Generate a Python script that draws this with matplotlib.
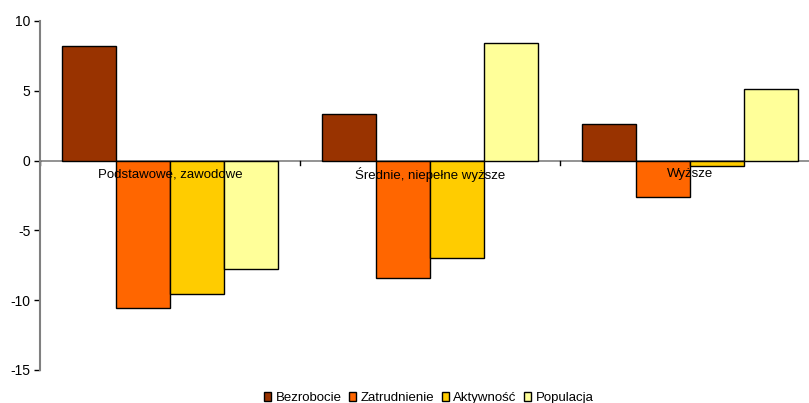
import numpy as np
import matplotlib.pyplot as plt
from matplotlib.patches import Patch

plt.rcParams['font.family'] = ['Liberation Sans', 'DejaVu Sans']
plt.rcParams['axes.unicode_minus'] = False

# zmiany wg poziomu wykształcenia
kategorie = ['Podstawowe, zawodowe', 'Średnie, niepełne wyższe', 'Wyższe']
serie = ['Bezrobocie', 'Zatrudnienie', 'Aktywność', 'Populacja']
bezrobocie = [8.2, 3.3, 2.6]
zatrudnienie = [-10.6, -8.4, -2.6]
aktywnosc = [-9.6, -7.0, -0.4]
populacja = [-7.8, 8.4, 5.1]
kolory = ['#993300', '#FF6600', '#FFCC00', '#FFFF99']

fig = plt.figure(figsize=(8.09, 4.03), dpi=100)
ax = fig.add_axes([40 / 809, 33.2 / 403, 780 / 809, 348.8 / 403])

x = np.arange(len(kategorie))
w = 0.2077
dane = [bezrobocie, zatrudnienie, aktywnosc, populacja]
for i, (vals, kol) in enumerate(zip(dane, kolory)):
    ax.bar(x + (i - 1.5) * w, vals, width=w, color=kol, edgecolor='black',
           linewidth=1.0, zorder=2)

ax.set_xlim(-0.5, 2.5)
ax.set_ylim(-15, 10)
ax.set_yticks([-15, -10, -5, 0, 5, 10])
ax.tick_params(axis='y', direction='out', length=4, width=1, colors='black',
               labelsize=10, pad=3)

for s in ['top', 'right', 'bottom']:
    ax.spines[s].set_visible(False)
ax.spines['left'].set_color('#808080')
ax.spines['left'].set_linewidth(1.5)

# oś pozioma na zerze z podziałkami między kategoriami
ax.axhline(0, color='#808080', linewidth=1.2, zorder=1)
ax.set_xticks([])
for b in [-0.5, 0.5, 1.5]:
    ax.plot([b, b], [0, -0.3], color='black', linewidth=1, zorder=1, clip_on=False)

for xi, k in zip(x, kategorie):
    ax.annotate(k, (xi, 0), xytext=(0, -10), textcoords='offset points',
                ha='center', va='center', fontsize=9.5, zorder=3)

uchwyty = [Patch(facecolor=k, edgecolor='black', linewidth=1) for k in kolory]
fig.legend(uchwyty, serie, loc='lower center', bbox_to_anchor=(0.53, -0.032),
           ncol=4, frameon=False, fontsize=9.5, handlelength=0.55,
           handleheight=0.6, handletextpad=0.35, columnspacing=0.55)

fig.savefig('out.png', dpi=100)
